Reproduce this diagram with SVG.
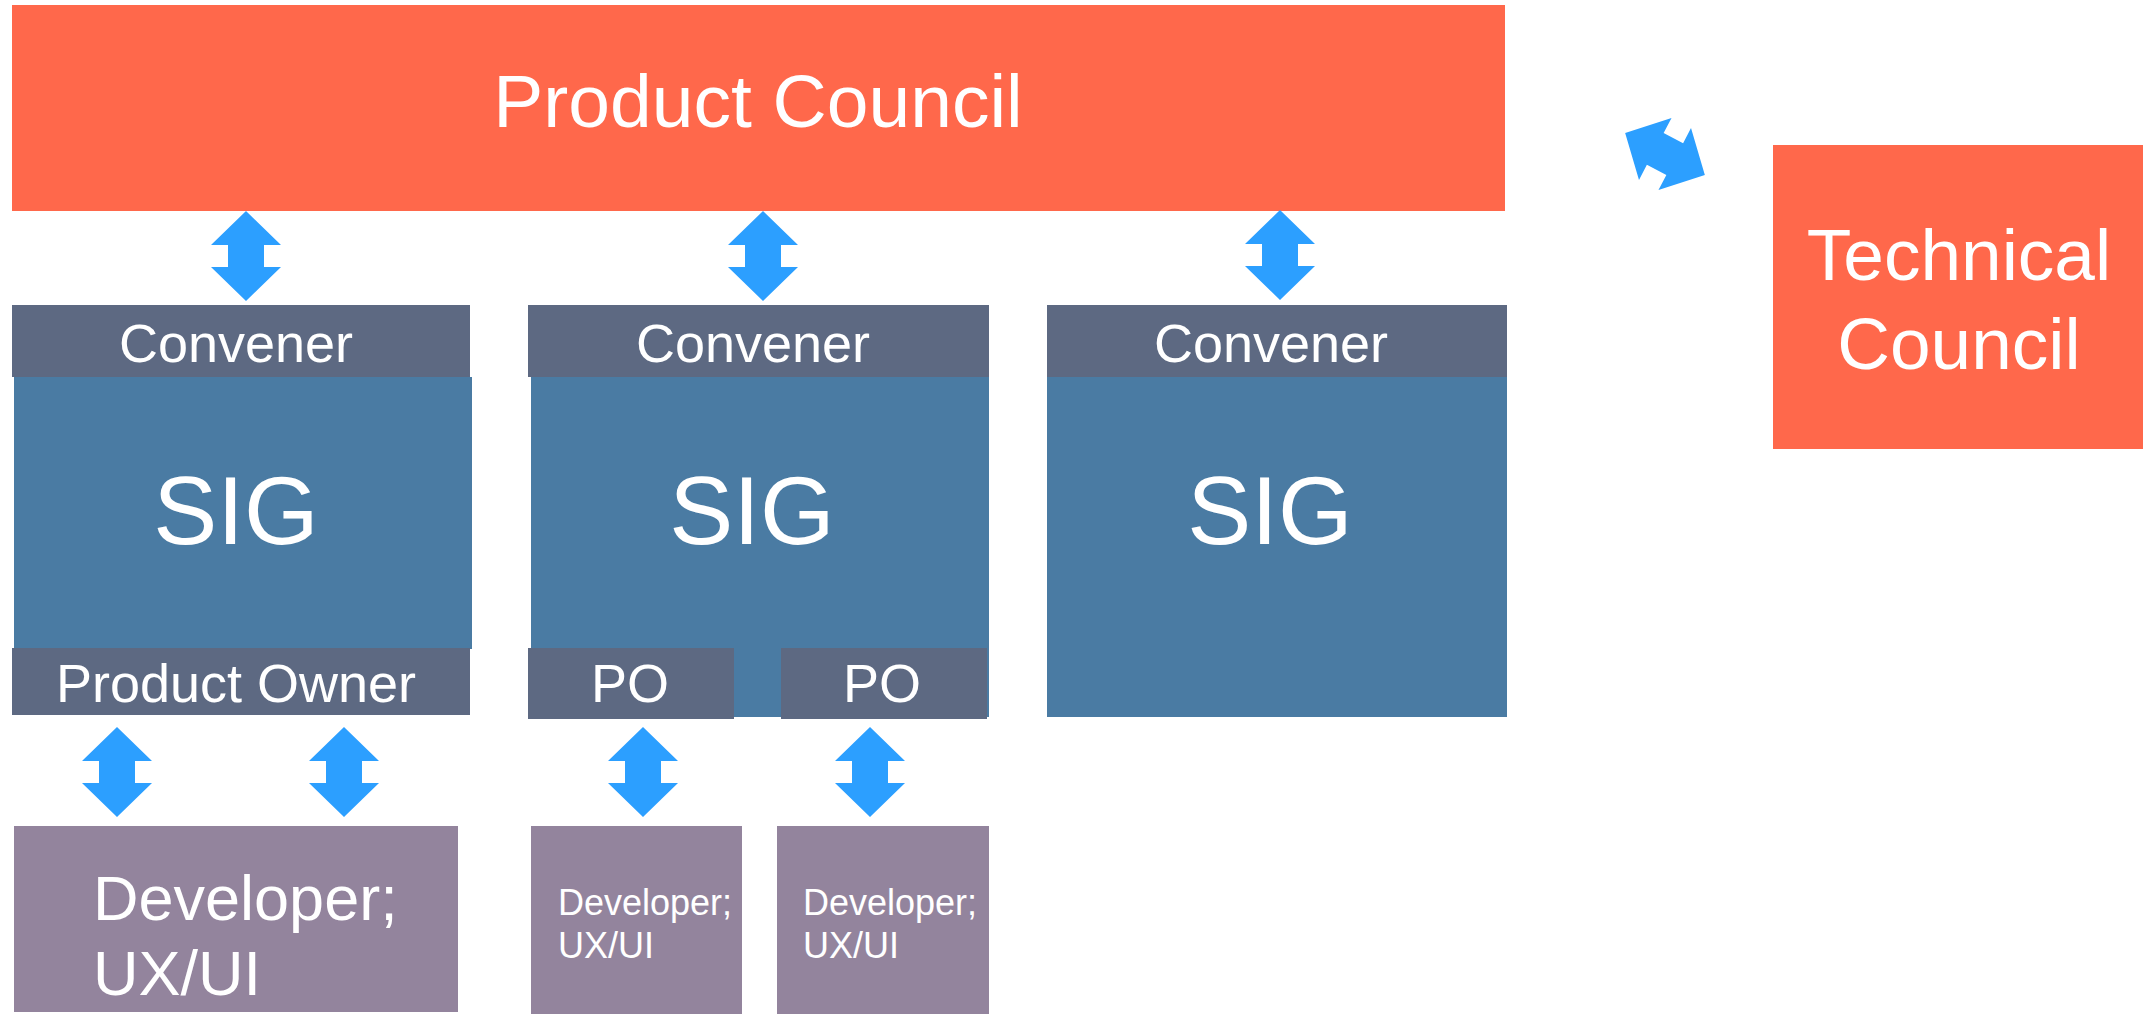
<svg xmlns="http://www.w3.org/2000/svg" width="2143" height="1014" viewBox="0 0 2143 1014">
<defs>
<style>
.council{fill:#FF684B}
.conv{fill:#5D6982}
.sig{fill:#4A7BA3}
.dev{fill:#93849D}
.arr{fill:#2C9FFF}
text{font-family:"Liberation Sans",Arial,Helvetica,sans-serif;fill:#FFFFFF}
.c{text-anchor:middle}
</style>
<path id="dbl" d="M0,-45 L35,-11 L18,-11 L18,11 L35,11 L0,45 L-35,11 L-18,11 L-18,-11 L-35,-11 Z"/>
</defs>
<rect width="2143" height="1014" fill="#FFFFFF"/>

<g id="product-council">
<rect class="council" x="12" y="5" width="1493" height="206"/>
<text class="c" x="758" y="127" font-size="75">Product Council</text>
</g>

<g id="technical-council">
<rect class="council" x="1773" y="145" width="370" height="304"/>
<text class="c" x="1959" y="280" font-size="73">Technical</text>
<text class="c" x="1959" y="369" font-size="73">Council</text>
</g>

<g id="sig1">
<rect class="sig" x="14" y="377" width="458" height="272"/>
<rect class="conv" x="12" y="305" width="458" height="72"/>
<text class="c" x="236" y="362" font-size="54">Convener</text>
<text class="c" x="236" y="544" font-size="96">SIG</text>
<rect class="conv" x="12" y="648" width="458" height="67"/>
<text class="c" x="236" y="702" font-size="54">Product Owner</text>
</g>

<g id="sig2">
<rect class="sig" x="531" y="377" width="458" height="340"/>
<rect class="conv" x="528" y="305" width="461" height="72"/>
<text class="c" x="753" y="362" font-size="54">Convener</text>
<text class="c" x="752" y="544" font-size="96">SIG</text>
<rect class="conv" x="528" y="648" width="206" height="71"/>
<text class="c" x="630" y="702" font-size="54">PO</text>
<rect class="conv" x="781" y="648" width="206" height="71"/>
<text class="c" x="882" y="702" font-size="54">PO</text>
</g>

<g id="sig3">
<rect class="sig" x="1047" y="377" width="460" height="340"/>
<rect class="conv" x="1047" y="305" width="460" height="72"/>
<text class="c" x="1271" y="362" font-size="54">Convener</text>
<text class="c" x="1270" y="544" font-size="96">SIG</text>
</g>

<g id="dev1">
<rect class="dev" x="14" y="826" width="444" height="186"/>
<text x="93" y="920" font-size="63">Developer;</text>
<text x="93" y="995" font-size="63">UX/UI</text>
</g>

<g id="dev2">
<rect class="dev" x="531" y="826" width="211" height="188"/>
<text x="558" y="915" font-size="36">Developer;</text>
<text x="558" y="958" font-size="36">UX/UI</text>
</g>

<g id="dev3">
<rect class="dev" x="777" y="826" width="212" height="188"/>
<text x="803" y="915" font-size="36">Developer;</text>
<text x="803" y="958" font-size="36">UX/UI</text>
</g>

<g id="connectors" class="arr">
<use href="#dbl" transform="translate(246,256)"/>
<use href="#dbl" transform="translate(763,256)"/>
<use href="#dbl" transform="translate(1280,255)"/>
<use href="#dbl" transform="translate(117,772)"/>
<use href="#dbl" transform="translate(344,772)"/>
<use href="#dbl" transform="translate(643,772)"/>
<use href="#dbl" transform="translate(870,772)"/>
<use href="#dbl" transform="translate(1665,154) rotate(-62.3)"/>
</g>
</svg>
